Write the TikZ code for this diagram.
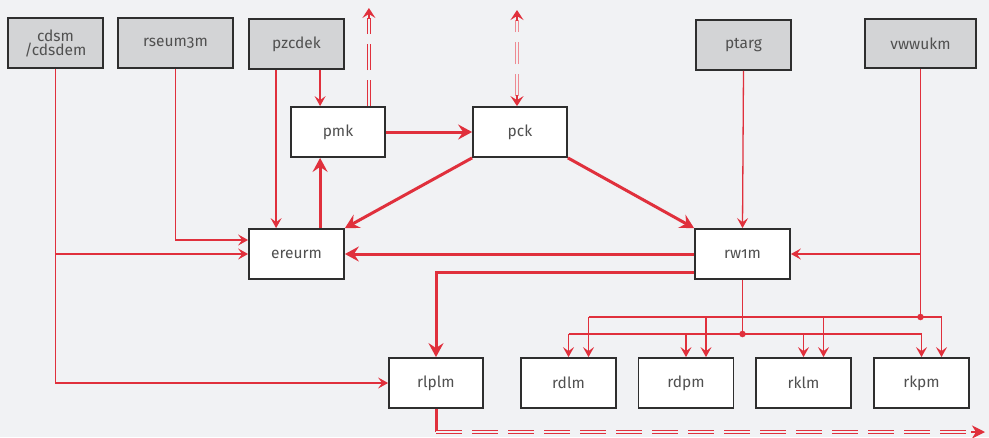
\documentclass[tikz,border=0pt]{standalone}
\usepackage{fontspec}
\setmainfont[Numbers=OldStyle]{Fira Sans}
\usetikzlibrary{arrows.meta}
\definecolor{bg}{HTML}{F1F2F4}
\definecolor{boxgray}{HTML}{D3D4D6}
\definecolor{edge}{HTML}{2E2E2E}
\definecolor{ink}{HTML}{505050}
\definecolor{flow}{HTML}{E0303C}
\definecolor{flowlight}{HTML}{EE8A92}
\tikzset{
  box/.style={draw=edge, line width=1.8pt, fill=white, minimum width=94pt,
    minimum height=50pt, inner sep=0pt, text=ink, font=\fontsize{15.5}{15}\selectfont,
    align=center},
  srcbox/.style={box, fill=boxgray},
  thinlink/.style={draw=flow, line width=1.3pt,
    -{Stealth[length=10pt,width=11pt,inset=4pt]}},
  thinline/.style={draw=flow, line width=1.3pt},
  thicklink/.style={draw=flow, line width=3pt,
    -{Stealth[length=14pt,width=15pt,inset=5pt]}},
  thickline/.style={draw=flow, line width=3pt},
  exportlink/.style={draw=flow, line width=1.3pt, double=bg, double distance=2pt,
    dash pattern=on 26pt off 10pt},
  junction/.style={circle, fill=flow, inner sep=0pt, minimum size=6.5pt},
}
\begin{document}
\begin{tikzpicture}[x=1pt, y=-1pt]
  \fill[bg] (0,0) rectangle (989,437);
  \useasboundingbox (0,0) rectangle (989,437);

  % source systems
  \node[srcbox, minimum width=95pt] (cdsm) at (55.5,43) {cdsm\\[-1pt]/cdsdem};
  \node[srcbox, minimum width=115pt] (rseum) at (175.5,43) {rseum3m};
  \node[srcbox, minimum width=95pt] (pzcdek) at (296.5,44) {pzcdek};
  \node[srcbox, minimum width=95pt] (ptarg) at (743.5,45) {ptarg};
  \node[srcbox, minimum width=111pt, minimum height=49pt] (vwwukm) at (920.5,43.5) {vwwukm};

  % processing stages
  \node[box] (pmk) at (338,132) {pmk};
  \node[box] (pck) at (520,132) {pck};
  \node[box, minimum width=95pt] (ereurm) at (296.5,254) {ereurm};
  \node[box, minimum width=95pt] (rw1m) at (742.5,254) {rw1m};
  \node[box] (rlplm) at (436,383) {rlplm};
  \node[box, minimum width=95pt] (rdlm) at (568.5,383) {rdlm};
  \node[box, minimum width=95pt] (rdpm) at (686,383) {rdpm};
  \node[box, minimum width=95pt] (rklm) at (803.5,383) {rklm};
  \node[box, minimum width=95pt] (rkpm) at (921.5,383) {rkpm};

  % helper points
  \coordinate (pzdrop) at ([xshift=28pt]ereurm.north west);
  \coordinate (pmkin) at ([xshift=30pt]pmk.north west);
  \coordinate (pmkout) at ([xshift=-17pt]pmk.north east);
  \coordinate (pmktop) at (pmkout |- 0,8);
  \coordinate (pckin) at ([xshift=-3pt]pck.north);
  \coordinate (pcktop) at (pckin |- 0,10);
  \coordinate (rseumin) at ([yshift=14pt]ereurm.west);
  \coordinate (rwlow) at ([yshift=-18pt]rw1m.west);
  \coordinate (busA) at (rw1m.south |- 0,334);
  \coordinate (busB) at (vwwukm.south |- 0,317);
  \coordinate (exportturn) at (rlplm.south |- 0,432);
  \coordinate (exportend) at (985,432);

  % feeds from the source systems
  \draw[thinlink] (cdsm.south) |- (rlplm.west);
  \draw[thinlink] (cdsm.south |- ereurm.west) -- (ereurm.west);
  \draw[thinlink] (rseum.south) |- (rseumin);
  \draw[thinlink] (pzdrop |- pzcdek.south) -- (pzdrop);
  \draw[thinlink] (pmkin |- pzcdek.south) -- (pmkin);
  \draw[thinlink] (ptarg.south) -- (rw1m.north);
  \draw[thinline] (vwwukm.south) -- (busB);
  \draw[thinlink] (vwwukm.south |- rw1m.east) -- (rw1m.east);

  % main flow
  \draw[thicklink] (pmk.east) -- (pck.west);
  \draw[thicklink] (pmkin |- ereurm.north) -- (pmkin |- pmk.south);
  \draw[thicklink] (pck.south west) -- (ereurm.north east);
  \draw[thicklink] (pck.south east) -- (rw1m.north west);
  \draw[thicklink] (rw1m.west) -- (ereurm.east);
  \draw[thicklink] (rwlow) -| (rlplm.north);

  % external exchanges
  \draw[exportlink] (pmkout) -- ([yshift=-10pt]pmktop);
  \draw[draw=flow, line width=1.3pt, -{Stealth[length=10pt,width=13pt,inset=4pt]}]
    ([yshift=-11pt]pmktop) -- (pmktop);
  \draw[exportlink, draw=flowlight, dash pattern=on 22pt off 10pt]
    ([yshift=10pt]pckin) -- ([yshift=-10pt]pcktop);
  \draw[draw=flow, line width=1.3pt, -{Stealth[length=10pt,width=13pt,inset=4pt]}]
    ([yshift=-11pt]pcktop) -- (pcktop);
  \draw[draw=flow, line width=1.3pt, -{Stealth[length=10pt,width=13pt,inset=4pt]}]
    ([yshift=11pt]pckin) -- (pckin);
  \draw[thickline] (rlplm.south) -- (exportturn);
  \draw[exportlink] (exportturn) -- ([xshift=-12pt]exportend);
  \draw[draw=flow, line width=1.3pt, -{Stealth[length=13pt,width=13pt,inset=4pt]}]
    ([xshift=-14pt]exportend) -- (exportend);

  % distribution bus from rw1m
  \draw[thinline] (rw1m.south) -- (busA);
  \draw[thinlink] (rdlm.north |- busA) -- (rkpm.north |- busA) -- (rkpm.north);
  \draw[thinlink] (rdlm.north |- busA) -- (rdlm.north);
  \draw[thinlink] (rdpm.north |- busA) -- (rdpm.north);
  \draw[thinlink] (rklm.north |- busA) -- (rklm.north);
  \node[junction] (jA) at (busA) {};

  % distribution bus from vwwukm
  \coordinate (bdl) at ([xshift=20pt]rdlm.north);
  \coordinate (bdp) at ([xshift=20pt]rdpm.north);
  \coordinate (bkl) at ([xshift=20pt]rklm.north);
  \coordinate (bkp) at ([xshift=20pt]rkpm.north);
  \draw[thinlink] (bdl |- busB) -- (bkp |- busB) -- (bkp);
  \draw[thinlink] (bdl |- busB) -- (bdl);
  \draw[thinlink] (bdp |- busB) -- (bdp);
  \draw[thinlink] (bkl |- busB) -- (bkl);
  \node[junction] (jB) at (busB) {};
\end{tikzpicture}
\end{document}
